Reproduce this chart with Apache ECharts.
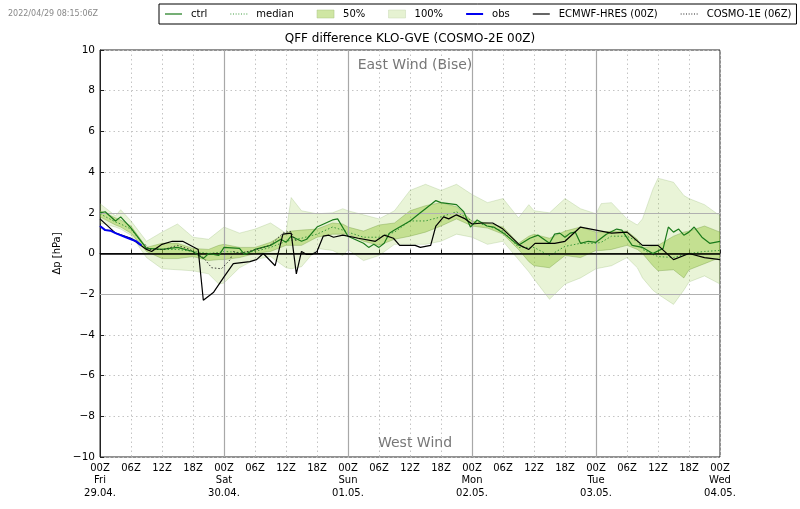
<!DOCTYPE html>
<html>
<head>
<meta charset="UTF-8">
<title>QFF difference KLO-GVE</title>
<script src="https://cdn.jsdelivr.net/npm/echarts@6/dist/echarts.min.js"></script>
<style>
html, body { margin: 0; padding: 0; background: #fff; }
#chart { width: 800px; height: 509px; }
</style>
</head>
<body>
<div id="chart"></div>
<script>
// hours since 29.04. 00Z
var bandHours = [0,3,4,6,9,12,15,18,21,23,
	24,27,30,33,36,37,39,42,45,47,
	48,51,54,57,60,63,66,69,72,75,
	78,81,83,84,87,90,93,96,97,99,
	102,104,105,107,108,111,113,114,117,120];
var upper100 = [2.45,1.85,2.15,1.6,.6,1.05,1.45,.8,.7,1.1,
	1.3,1.0,1.2,1.5,1.0,2.75,2.1,1.95,2.0,2.2,
	2.1,1.9,1.7,2.1,3.1,3.4,3.1,3.4,2.9,2.5,
	2.7,1.75,2.4,2.1,2.0,2.7,2.2,1.95,2.45,2.5,
	1.7,1.4,1.7,3.15,3.7,3.5,2.85,2.7,2.4,1.85];
var lower100 = [1.5,1.3,1.2,.9,-.2,-.75,-.8,-.85,-1.0,-1.5,
	-1.45,-.7,-.3,-.15,-.7,-.75,-.65,.25,.15,-.1,
	.2,-.35,-.1,.45,.45,.45,.6,.95,.8,.45,
	.6,-.3,-.9,-1.25,-2.25,-1.5,-1.2,-.75,-.7,-.6,
	-.2,-.7,-1.2,-1.8,-2.0,-2.5,-1.8,-1.4,-1.1,-1.5];
var upper50 = [2.1,1.75,1.65,1.35,.3,.5,.5,.25,.2,.4,
	.45,.3,.3,.55,1.0,1.1,1.15,1.2,1.5,1.45,
	1.3,1.1,1.4,1.5,2.1,2.35,2.5,2.3,1.6,1.5,
	1.3,.5,.85,.95,.75,1.1,1.3,1.05,1.05,1.1,
	1.1,.7,.3,.35,.4,.85,1.05,1.1,1.35,1.05];
var lower50 = [1.8,1.4,1.3,1.0,.1,-.25,-.25,-.15,-.35,-.3,
	-.3,-.2,0,.1,.4,.4,.4,.8,.95,.95,
	.95,.6,.4,.7,.85,1.05,1.35,1.7,1.35,1.25,
	.95,.2,-.4,-.6,-.7,-.1,-.2,.15,.15,.2,
	.4,.2,0,-.6,-.85,-.8,-1.2,-.8,-.5,-.2];
var median = [1.95,1.55,1.45,1.2,.25,.2,.2,.1,0,.05,
	.1,.05,.1,.3,.6,.65,.75,.95,1.3,1.15,
	1.05,.8,.8,1.05,1.6,1.6,1.8,2.05,1.6,1.35,
	1.1,.3,.3,.3,-.1,.35,.5,.5,.55,.85,
	.85,.6,.2,-.05,-.15,-.2,-.05,0,.1,.15];

var ctrlHours = [0,1,3,4,6,9,12,15,18,20,21,23,24,27,28,30,33,35,36,37,39,40,
	42,45,46,48,51,52,53,54,55,56,57,60,62,63,65,66,69,70.4,71.7,73,74.9,76.2,78.1,
	81,83.2,84.8,87,88,89,90,91,92,93,94.5,96,98,100,101,103,105,107,109,110,111,
	112,113,114,115,116.5,118,120];
var ctrl = [2.0,2.05,1.6,1.8,1.25,.25,.2,.3,.1,-.25,0,-.1,.3,.25,-.05,.2,.4,.7,.55,.85,.6,.7,
	1.3,1.65,1.7,.85,.5,.3,.45,.3,.5,1.0,1.15,1.6,2.0,2.2,2.6,2.5,2.4,2.05,1.3,1.65,1.35,1.3,1.0,
	.4,.75,.9,.5,.95,1.0,.8,1.0,1.05,.5,.6,.55,.95,1.2,1.15,.4,.3,0,.25,1.3,1.05,
	1.2,.9,1.05,1.3,.8,.5,.6];

var obsHours = [0,1,2,3,5,7,8];
var obs = [1.35,1.15,1.12,1.0,.8,.6,.4];

var ecmwfHours = [0,3,6,9,10,12,14,16,19,20,22,24,25.8,29,30.3,31.6,33.9,35.4,37,38,39,40,41,42,
	43.2,44.3,45.2,47,50,53.3,55,56.8,58,61,62,64,65,66.5,67.5,69,70.7,72,74,76,78,
	81.3,83,84.2,88,90,93,99,102,105,108,111,114,117,120];
var ecmwf = [1.7,1.0,.75,.2,.1,.45,.6,.6,.2,-2.3,-1.9,-1.15,-.5,-.4,-.3,0,-.6,.95,1.0,-1.0,.1,-.05,-.05,.1,
	.85,.9,.8,.9,.75,.6,.9,.75,.4,.4,.3,.4,1.35,1.8,1.7,1.9,1.7,1.45,1.5,1.5,1.2,
	.4,.2,.5,.5,.6,1.3,1.0,1.05,.4,.4,-.3,0,-.2,-.3];

var cosmoHours = [8.7,9.6,12.4,15,17.4,20,21.6,23.5,25.2,25.8,27,30.3,32.9,35.4,36.8,38];
var cosmo = [.45,.2,.2,.4,.2,-.2,-.7,-.75,-.3,.1,0,.2,.4,1.0,1.1,.6];

var weekdays = ['Fri', 'Sat', 'Sun', 'Mon', 'Tue', 'Wed'];
var dates = ['29.04.', '30.04.', '01.05.', '02.05.', '03.05.', '04.05.'];
var dayLines = [24, 48, 72, 96];
var font = 'DejaVu Sans';
// legend handles, the legend scales these to its 17px item width
var solidIcon = 'path://M0 0h17v1.2h-17z';
var thickIcon = 'path://M0 0h17v2h-17z';
var dotIcon = 'path://M0 0h1v1h-1zM2.67 0h1v1h-1zM5.33 0h1v1h-1zM8 0h1v1h-1zM10.67 0h1v1h-1zM13.33 0h1v1h-1zM16 0h1v1h-1z';

function zip(xs, ys) {
	return xs.map(function(x, i) { return [x, ys[i]]; });
}

function lineSeries(name, xs, ys, color, width, type, z) {
	return {
		name: name,
		type: 'line',
		symbol: 'none',
		z: z,
		data: zip(xs, ys),
		itemStyle: { color: color },
		lineStyle: { color: color, width: width, type: type }
	};
}

// one polygon per band, upper edge forward then lower edge back
function bandSeries(name, hi, lo, fill, edge, z) {
	return {
		name: name,
		type: 'custom',
		z: z,
		silent: true,
		clip: true,
		itemStyle: { color: fill },
		data: zip(bandHours, hi),
		renderItem: function(params, api) {
			if (params.dataIndex > 0) return;
			var pts = [];
			bandHours.forEach(function(h, i) { pts.push(api.coord([h, hi[i]])); });
			for (var i = bandHours.length - 1; i >= 0; i--) {
				pts.push(api.coord([bandHours[i], lo[i]]));
			}
			return {
				type: 'polygon',
				shape: { points: pts },
				style: { fill: fill, stroke: edge, lineWidth: 0.8 }
			};
		}
	};
}

var refLines = {
	type: 'line',
	data: [],
	z: 1,
	silent: true,
	markLine: {
		silent: true,
		symbol: 'none',
		animation: false,
		label: { show: false },
		data: dayLines.map(function(d) {
			return { xAxis: d, lineStyle: { color: '#a8a8a8', width: 1.2, type: 'solid' } };
		}).concat([
			{ yAxis: 2, lineStyle: { color: '#b0b0b0', width: 1.2, type: 'solid' } },
			{ yAxis: -2, lineStyle: { color: '#b0b0b0', width: 1.2, type: 'solid' } }
		])
	}
};

var zeroLine = {
	type: 'line',
	data: [],
	z: 6,
	silent: true,
	markLine: {
		silent: true,
		symbol: 'none',
		animation: false,
		label: { show: false },
		data: [{ yAxis: 0, lineStyle: { color: '#000', width: 1.5, type: 'solid' } }]
	}
};

var series = [refLines, zeroLine,
	bandSeries('100%', upper100, lower100, 'rgba(160,208,80,0.23)', 'rgba(130,170,90,0.3)', 2),
	bandSeries('50%', upper50, lower50, 'rgba(150,200,60,0.45)', 'rgba(110,150,60,0.45)', 3),
	lineSeries('median', bandHours, median, '#3c9a3c', 1, [1.5, 2], 4),
	lineSeries('ctrl', ctrlHours, ctrl, '#1a7a1a', 1.2, 'solid', 5),
	lineSeries('obs', obsHours, obs, '#0000f0', 2, 'solid', 7),
	lineSeries('ECMWF-HRES (00Z)', ecmwfHours, ecmwf, '#000', 1.2, 'solid', 6),
	lineSeries('COSMO-1E (06Z)', cosmoHours, cosmo, '#222', 0.9, [1.5, 2], 6)
];

var chart = echarts.init(document.getElementById('chart'), null, { renderer: 'canvas' });
chart.setOption({
	animation: false,
	backgroundColor: '#fff',
	textStyle: { fontFamily: font },
	title: [
		{ text: 'QFF difference KLO-GVE (COSMO-2E 00Z)', left: 405, top: 28, textAlign: 'center',
			textStyle: { fontFamily: font, fontSize: 12, fontWeight: 'normal', color: '#000' } },
		{ text: '2022/04/29 08:15:06Z', left: 3, top: 5,
			textStyle: { fontFamily: font, fontSize: 8, fontWeight: 'normal', color: '#888' } },
		{ text: 'East Wind (Bise)', left: 410, top: 53, textAlign: 'center',
			textStyle: { fontFamily: font, fontSize: 14, fontWeight: 'normal', color: '#777' } },
		{ text: 'West Wind', left: 410, top: 431, textAlign: 'center',
			textStyle: { fontFamily: font, fontSize: 14, fontWeight: 'normal', color: '#777' } }
	],
	legend: {
		left: 159,
		top: 4,
		width: 640,
		padding: [5, 5, 5, 6],
		itemGap: 23,
		itemWidth: 17,
		itemHeight: 8,
		borderColor: '#000',
		borderWidth: 1,
		borderRadius: 0,
		textStyle: { fontFamily: font, fontSize: 10, color: '#000', padding: [0, 0, 0, 4] },
		data: [
			{ name: 'ctrl', icon: solidIcon, itemStyle: { color: '#1a7a1a' } },
			{ name: 'median', icon: dotIcon, itemStyle: { color: '#3c9a3c' } },
			{ name: '50%', icon: 'rect', itemStyle: { color: '#cfe6a3', borderColor: '#a9c585', borderWidth: 0.5 } },
			{ name: '100%', icon: 'rect', itemStyle: { color: '#e6f2d2', borderColor: '#c8d8b5', borderWidth: 0.5 } },
			{ name: 'obs', icon: thickIcon, itemStyle: { color: '#0000f0' } },
			{ name: 'ECMWF-HRES (00Z)', icon: solidIcon, itemStyle: { color: '#000' } },
			{ name: 'COSMO-1E (06Z)', icon: dotIcon, itemStyle: { color: '#222' } }
		]
	},
	grid: {
		left: 100,
		right: 80,
		top: 50,
		bottom: 52,
		show: true,
		borderColor: '#222',
		borderWidth: 1,
		backgroundColor: 'transparent'
	},
	xAxis: {
		type: 'value',
		min: 0,
		max: 120,
		interval: 6,
		axisLine: { lineStyle: { color: '#222' } },
		axisTick: { inside: true, length: 4, lineStyle: { color: '#222' } },
		splitLine: { show: true, lineStyle: { color: '#c4c4c4', type: [1.5, 3], width: 1 } },
		axisLabel: {
			showMinLabel: true,
			showMaxLabel: true,
			hideOverlap: false,
			fontFamily: font,
			fontSize: 10,
			lineHeight: 12.5,
			margin: 5,
			color: '#000',
			formatter: function(v) {
				var hh = v % 24;
				var label = (hh < 10 ? '0' : '') + hh + 'Z';
				if (hh === 0) {
					return label + '\n' + weekdays[v / 24] + '\n' + dates[v / 24];
				}
				return label;
			}
		}
	},
	yAxis: {
		type: 'value',
		min: -10,
		max: 10,
		interval: 2,
		name: 'Δp [hPa]',
		nameLocation: 'middle',
		nameGap: 28,
		nameRotate: 90,
		nameTextStyle: { fontFamily: font, fontSize: 10, color: '#000' },
		axisLine: { show: true, lineStyle: { color: '#222' } },
		axisTick: { show: true, inside: true, length: 4, lineStyle: { color: '#222' } },
		splitLine: { show: true, lineStyle: { color: '#c4c4c4', type: [1.5, 3], width: 1 } },
		axisLabel: {
			fontFamily: font,
			fontSize: 10.5,
			margin: 5,
			color: '#000',
			formatter: function(v) { return v < 0 ? '\u2212' + Math.abs(v) : String(v); }
		}
	},
	series: series
});
</script>
</body>
</html>
